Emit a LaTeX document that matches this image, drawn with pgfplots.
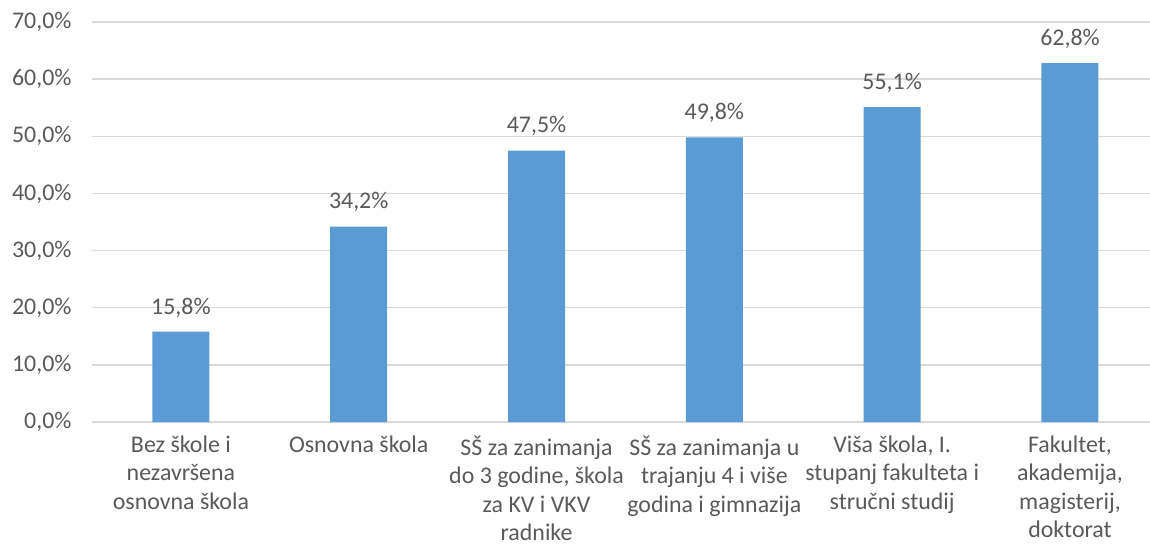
\documentclass[border=0pt]{standalone}
\usepackage{pgfplots}
\pgfplotsset{compat=1.18}
\usepackage{fontspec}
\setmainfont{Carlito}
\definecolor{barblue}{HTML}{5B9BD5}
\definecolor{txtgray}{HTML}{595959}
\definecolor{gridgray}{HTML}{D9D9D9}
\begin{document}
\begin{tikzpicture}
\begin{axis}[
  at={(0,0)}, anchor=south west,
  scale only axis,
  width=1058bp, height=400bp,
  xmin=-0.5, xmax=5.45,
  ymin=0, ymax=70,
  ytick={0,10,...,70},
  xtick={0,1,2,3,4,5},
  xticklabels={{Bez škole i\\nezavršena\\osnovna škola},
    {Osnovna škola},
    {SŠ za zanimanja\\do 3 godine, škola\\za KV i VKV\\radnike},
    {SŠ za zanimanja u\\trajanju 4 i više\\godina i gimnazija},
    {Viša škola, I.\\stupanj fakulteta i\\stručni studij},
    {Fakultet,\\akademija,\\magisterij,\\doktorat}},
  xticklabel style={font=\fontsize{24}{28.3}\selectfont, text=txtgray, align=center, anchor=north, yshift=-13bp, inner sep=1bp},
  yticklabel style={font=\fontsize{24}{28}\selectfont, text=txtgray, xshift=-17bp},
  yticklabel={\pgfmathprintnumber[fixed,fixed zerofill,precision=1,use comma]{\tick}\%},
  /pgf/number format/assume math mode=true,
  axis line style={draw=none},
  major tick style={draw=none},
  ymajorgrids,
  grid style={gridgray, line width=1.3bp},
  clip=false,
  nodes near coords={\pgfmathprintnumber[fixed,fixed zerofill,precision=1,use comma]{\pgfplotspointmeta}\%},
  nodes near coords style={font=\fontsize{24}{28}\selectfont, text=txtgray, anchor=south, yshift=11bp},
]
\addplot[ybar, bar width=57bp, fill=barblue, draw=none] coordinates {
  (0,15.8) (1,34.2) (2,47.5) (3,49.8) (4,55.1) (5,62.8)
};
\end{axis}
\pgfresetboundingbox
\path[use as bounding box] (-92bp,-125bp) rectangle (1058bp,422bp);
\end{tikzpicture}
\end{document}
